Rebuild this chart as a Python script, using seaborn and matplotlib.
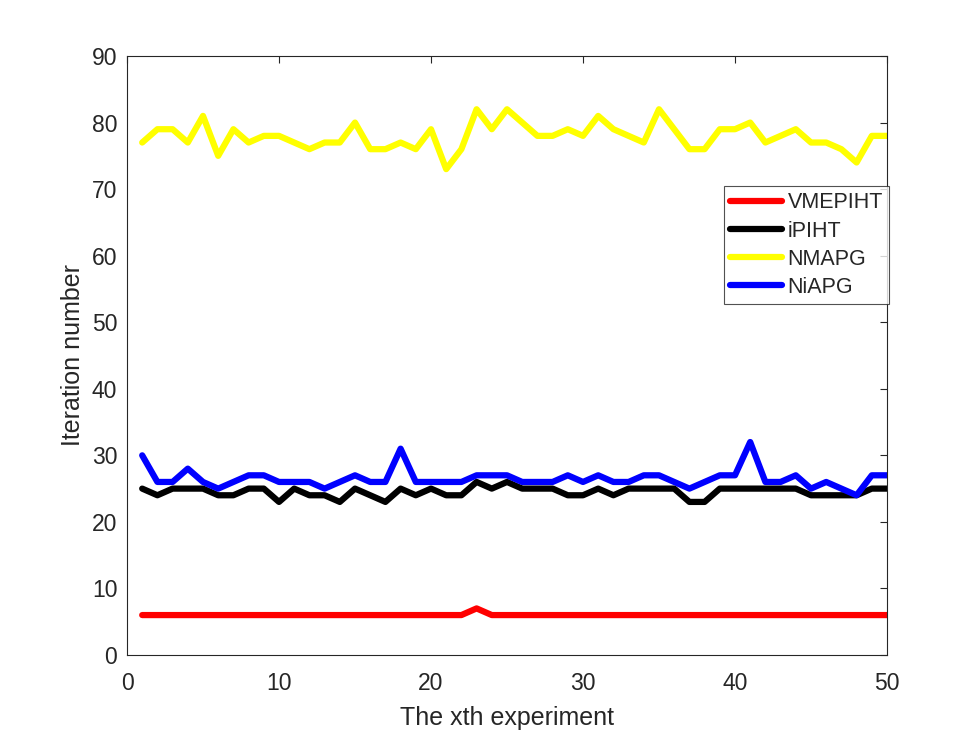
import numpy as np
import pandas as pd
import matplotlib
matplotlib.use("Agg")
import matplotlib.pyplot as plt
import seaborn as sns

# iteration counts for each of the 50 experiments
experiments = list(range(1, 51))
vmepiht = [6] * 22 + [7] + [6] * 27
ipiht = [25, 24, 25, 25, 25, 24, 24, 25, 25, 23,
         25, 24, 24, 23, 25, 24, 23, 25, 24, 25,
         24, 24, 26, 25, 26, 25, 25, 25, 24, 24,
         25, 24, 25, 25, 25, 25, 23, 23, 25, 25,
         25, 25, 25, 25, 24, 24, 24, 24, 25, 25]
nmapg = [77, 79, 79, 77, 81, 75, 79, 77, 78, 78,
         77, 76, 77, 77, 80, 76, 76, 77, 76, 79,
         73, 76, 82, 79, 82, 80, 78, 78, 79, 78,
         81, 79, 78, 77, 82, 79, 76, 76, 79, 79,
         80, 77, 78, 79, 77, 77, 76, 74, 78, 78]
niapg = [30, 26, 26, 28, 26, 25, 26, 27, 27, 26,
         26, 26, 25, 26, 27, 26, 26, 31, 26, 26,
         26, 26, 27, 27, 27, 26, 26, 26, 27, 26,
         27, 26, 26, 27, 27, 26, 25, 26, 27, 27,
         32, 26, 26, 27, 25, 26, 25, 24, 27, 27]

methods = ['VMEPIHT', 'iPIHT', 'NMAPG', 'NiAPG']
colors = ['#ff0000', '#000000', '#ffff00', '#0000ff']

df = pd.DataFrame({
    'x': experiments * 4,
    'iters': vmepiht + ipiht + nmapg + niapg,
    'method': [m for m in methods for _ in experiments],
})

sns.set_style('white')
plt.rcParams['font.family'] = ['Liberation Sans', 'DejaVu Sans']

fig = plt.figure(figsize=(9.8, 7.35), dpi=100)
ax = fig.add_axes([127 / 980, 80 / 735, 760 / 980, 599 / 735])

sns.lineplot(data=df, x='x', y='iters', hue='method', hue_order=methods,
             palette=colors, linewidth=4.5, ax=ax, legend=False)

ax.set_xlim(0, 50)
ax.set_ylim(0, 90)
ax.set_xticks(np.arange(0, 51, 10))
ax.set_yticks(np.arange(0, 91, 10))
ax.tick_params(direction='in', length=5, width=0.8, top=True, right=True,
               labelsize=16.5, colors='#262626')
ax.tick_params(axis='x', pad=12)
ax.tick_params(axis='y', pad=7)
for s in ax.spines.values():
    s.set_color('#262626')
    s.set_linewidth(0.8)
ax.set_xlabel('The xth experiment', fontsize=18, color='#262626', labelpad=8)
ax.set_ylabel('Iteration number', fontsize=18, color='#262626', labelpad=5)

handles = [plt.Line2D([], [], color=c, linewidth=4.5) for c in colors]
leg = ax.legend(handles, methods, loc='upper right',
                bbox_to_anchor=(1.003, 0.783), fontsize=15.5,
                frameon=True, fancybox=False, handlelength=2.4,
                handletextpad=0.25, borderpad=0.3, labelspacing=0.33,
                borderaxespad=0)
leg.get_frame().set_edgecolor('#262626')
leg.get_frame().set_linewidth(0.8)

fig.savefig('out.png', dpi=100)
